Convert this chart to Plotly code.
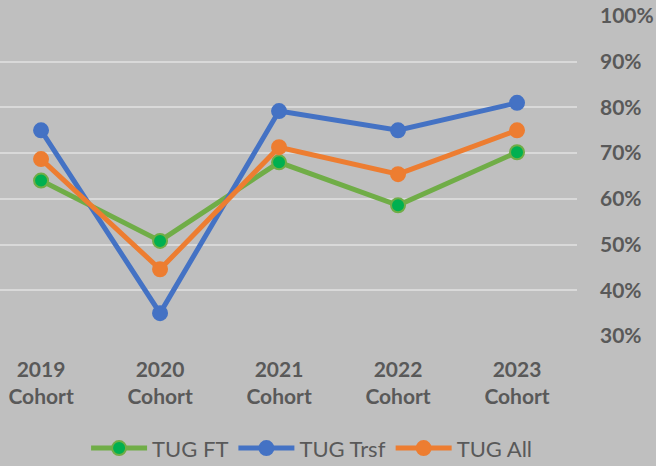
import plotly.graph_objects as go

categories = ["2019<br>Cohort", "2020<br>Cohort", "2021<br>Cohort", "2022<br>Cohort", "2023<br>Cohort"]
tug_ft = [0.64, 0.508, 0.68, 0.586, 0.702]
tug_trsf = [0.75, 0.35, 0.792, 0.75, 0.81]
tug_all = [0.687, 0.446, 0.713, 0.654, 0.75]
y_ticks = [0.3, 0.4, 0.5, 0.6, 0.7, 0.8, 0.9, 1.0]
y_tick_labels = ["30%", "40%", "50%", "60%", "70%", "80%", "90%", "100%"]

x_idx = list(range(len(categories)))

fig = go.Figure()
series = [
    ("TUG FT", tug_ft, "#70ad47", "#00b050"),
    ("TUG Trsf", tug_trsf, "#4472c4", "#4472c4"),
    ("TUG All", tug_all, "#ed7d31", "#ed7d31"),
]
for name, vals, lc, mc in series:
    fig.add_trace(go.Scatter(
        x=x_idx, y=vals, name=name, mode="lines+markers",
        line=dict(color=lc, width=5),
        marker=dict(size=14, color=mc, line=dict(color=lc, width=2)),
    ))

fig.update_layout(
    width=656, height=466,
    paper_bgcolor="#bfbfbf", plot_bgcolor="#bfbfbf",
    margin=dict(l=0, r=79, t=16, b=130, autoexpand=False),
    font=dict(family="Lato", color="#595959"),
    showlegend=True,
    legend=dict(orientation="h", x=0.54, xanchor="center",
                yref="container", y=0.038, yanchor="middle",
                font=dict(size=22, color="#595959"), bgcolor="rgba(0,0,0,0)",
                itemwidth=56, tracegroupgap=0),
    xaxis=dict(
        range=[-0.345, 4.504], tickmode="array", tickvals=x_idx, ticktext=categories,
        showgrid=False, zeroline=False, showline=False,
        tickfont=dict(size=21, color="#595959", family="Lato", weight="bold"),
        ticks="", ticklabelstandoff=19,
    ),
    yaxis=dict(
        side="right", range=[0.3, 1.0], tickmode="array", tickvals=y_ticks, ticktext=y_tick_labels,
        showgrid=True, gridcolor="#d9d9d9", gridwidth=2, zeroline=False, showline=False,
        tickfont=dict(size=21, color="#595959", family="Lato", weight="bold"),
        ticks="", ticklabelstandoff=22,
    ),
)

fig.write_html("out.html", config={"displayModeBar": False},
               post_script="document.body.style.margin='0';document.body.style.background='#bfbfbf';")
